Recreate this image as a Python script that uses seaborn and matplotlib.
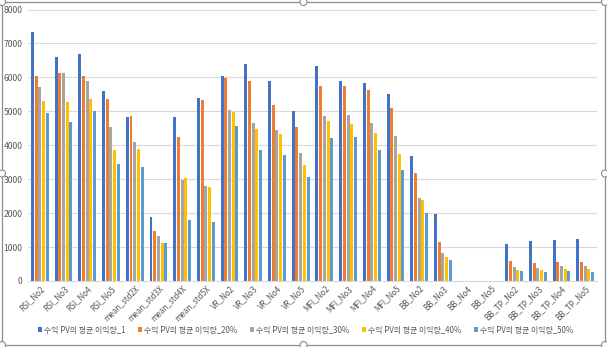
import numpy as np
import pandas as pd
import matplotlib
matplotlib.use("Agg")
import matplotlib.pyplot as plt
from matplotlib.patches import Rectangle, Ellipse
import seaborn as sns

categories = [
    "RSI_No2", "RSI_No3", "RSI_No4", "RSI_No5",
    "mean_std2X", "mean_std3X", "mean_std4X", "mean_std5X",
    "VR_No2", "VR_No3", "VR_No4", "VR_No5",
    "MFI_No2", "MFI_No3", "MFI_No4", "MFI_No5",
    "BB_No2", "BB_No3", "BB_No4", "BB_No5",
    "BB_TP_No2", "BB_TP_No3", "BB_TP_No4", "BB_TP_No5",
]

series_names = [
    "수익 PV의 평균 이익량_1",
    "수익 PV의 평균 이익량_20%",
    "수익 PV의 평균 이익량_30%",
    "수익 PV의 평균 이익량_40%",
    "수익 PV의 평균 이익량_50%",
]

profit_1 = [7340, 6590, 6700, 5590, 4830, 1880, 4830, 5400,
            6050, 6390, 5880, 5010, 6340, 5890, 5840, 5510,
            3680, 1980, 0, 0, 1100, 1180, 1220, 1250]
profit_20 = [6050, 6130, 6050, 5370, 4850, 1475, 4230, 5320,
             5990, 5880, 5200, 4550, 5740, 5760, 5620, 5090,
             3190, 1140, 0, 0, 575, 535, 565, 565]
profit_30 = [5730, 6130, 5890, 4530, 4090, 1330, 2970, 2790,
             5040, 4670, 4450, 3780, 4870, 4880, 4650, 4260,
             2450, 830, 0, 0, 415, 395, 445, 455]
profit_40 = [5300, 5280, 5360, 3870, 3890, 1130, 3030, 2780,
             4970, 4480, 4330, 3420, 4700, 4640, 4350, 3730,
             2380, 710, 0, 0, 335, 315, 355, 355]
profit_50 = [4940, 4680, 5010, 3440, 3360, 1110, 1800, 1730,
             4580, 3860, 3710, 3070, 4220, 4240, 3860, 3260,
             1990, 630, 0, 0, 300, 265, 285, 265]

yticks = [0, 1000, 2000, 3000, 4000, 5000, 6000, 7000, 8000]

palette = ["#4472C4", "#ED7D31", "#A5A5A5", "#FFC000", "#5B9BD5"]

all_series = [profit_1, profit_20, profit_30, profit_40, profit_50]
df = pd.DataFrame({
    "category": np.tile(categories, len(series_names)),
    "series": np.repeat(series_names, len(categories)),
    "value": np.concatenate(all_series),
})

sns.set_theme(style="white")
plt.rcParams["font.family"] = ["Noto Sans CJK KR", "DejaVu Sans"]

W, H = 607, 347
fig = plt.figure(figsize=(W / 100, H / 100), dpi=100)
ax = fig.add_axes([28 / W, 1 - 281 / H, (597 - 28) / W, (281 - 9.5) / H])

sns.barplot(data=df, x="category", y="value", hue="series",
            order=categories, hue_order=series_names, palette=palette,
            width=0.78, gap=0.2, saturation=1, errorbar=None, ax=ax,
            linewidth=0, legend=True)

ax.set_xlim(-0.5, len(categories) - 0.5)
ax.set_ylim(0, 8000)
ax.set_yticks(yticks)
ax.set_yticklabels([str(v) for v in yticks], fontsize=6.2, color="#595959")
ax.set_xticks(range(len(categories)))
ax.set_xticklabels(categories, rotation=45, ha="right", rotation_mode="anchor",
                   fontsize=5.8, color="#595959")
ax.tick_params(axis="y", length=0, pad=4)
ax.tick_params(axis="x", length=0, pad=2)
ax.set_xlabel("")
ax.set_ylabel("")
ax.grid(axis="y", color="#D9D9D9", linewidth=0.8)
ax.set_axisbelow(True)
for side in ["top", "right", "left"]:
    ax.spines[side].set_visible(False)
ax.spines["bottom"].set_color("#D9D9D9")
ax.spines["bottom"].set_linewidth(0.8)

leg = ax.legend(loc="center", bbox_to_anchor=(0.5 - 7 / (597 - 28), -49 / (281 - 9.5)),
                ncol=5, frameon=False, fontsize=5.7, handlelength=0.55,
                handleheight=0.55, handletextpad=0.25, columnspacing=1.6,
                borderaxespad=0)
for t in leg.get_texts():
    t.set_color("#595959")

# chart frame with selection handles
fig.patches.append(Rectangle((2 / W, 2 / H), 1 - 4 / W, 1 - 4 / H,
                             transform=fig.transFigure, fill=False,
                             edgecolor="#8C8C8C", linewidth=0.9))
for hx, hy in [(2, 2), (W / 2, 2), (W - 2, 2), (2, H / 2), (W - 2, H / 2),
               (2, H - 2), (W / 2, H - 2), (W - 2, H - 2)]:
    fig.patches.append(Ellipse((hx / W, 1 - hy / H), 7 / W, 7 / H,
                               transform=fig.transFigure, facecolor="white",
                               edgecolor="#8C8C8C", linewidth=0.8, zorder=5))

fig.savefig("out.png", dpi=100)
